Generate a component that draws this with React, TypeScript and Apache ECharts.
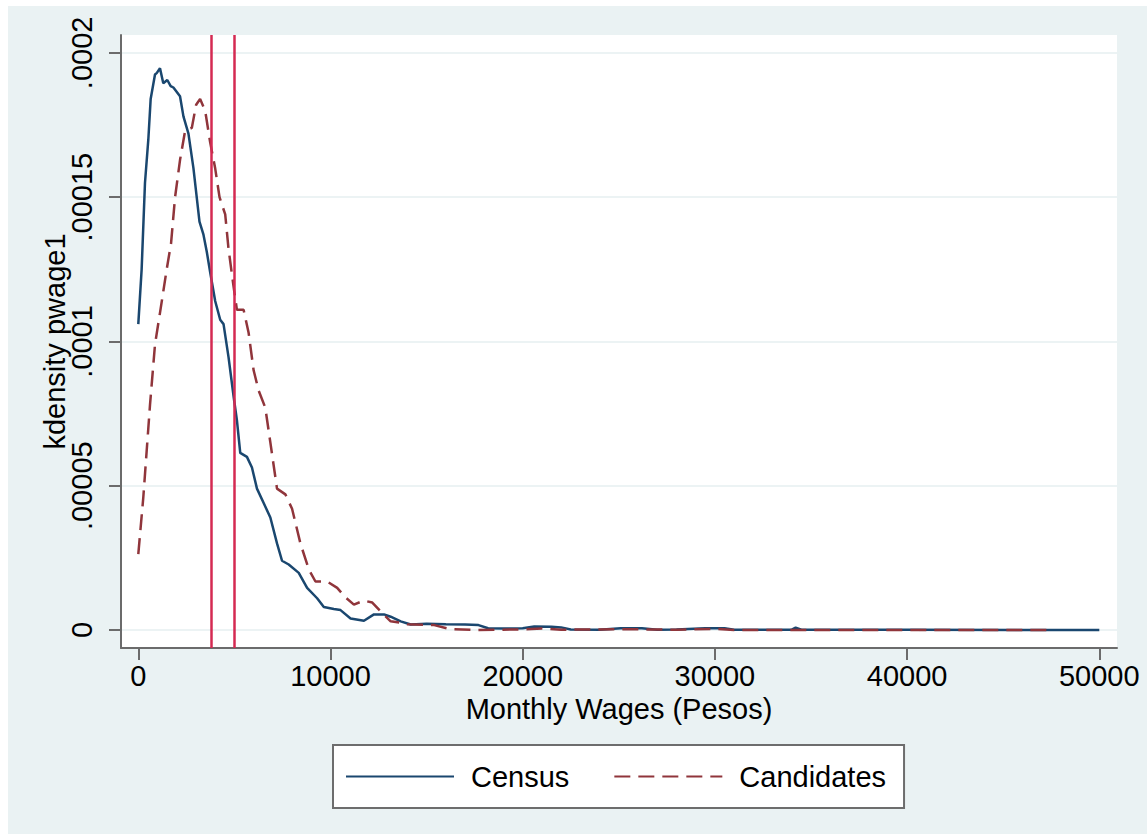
import React, { useEffect, useRef } from "react";
import * as echarts from "echarts";

// Kernel density of monthly wages (pesos)
const censusWage = [
  0, 174, 348, 522, 643, 869, 957, 1129, 1300, 1509, 1685, 1826, 2170, 2348, 2609, 2870, 3183, 3391, 3565,
  3739, 4000, 4261, 4435, 4696, 4957, 5130, 5304, 5652, 5913, 6174, 6522, 6870, 7217, 7478, 7826, 8348,
  8783, 9304, 9652, 10174, 10522, 11043, 11739, 12261, 12783, 13130, 13652, 14174, 15000, 16000, 17000,
  17700, 18200, 19000, 20000, 20600, 21500, 22000, 22500, 24000, 25100, 26200, 27000, 28000, 29500, 30500,
  31000, 34000, 34200, 34500, 40000, 50000,
];
const censusDensity = [
  0.000106, 0.000125, 0.000155, 0.00017, 0.000184, 0.0001925, 0.000193, 0.0001947, 0.0001895, 0.0001906,
  0.0001885, 0.000188, 0.000185, 0.000178, 0.000172, 0.00016, 0.0001415, 0.000137, 0.000131, 0.000124,
  0.000114, 0.0001075, 0.000106, 0.0000945, 0.000081, 0.0000727, 0.0000614, 0.00006, 0.0000563, 0.000049,
  0.000044, 0.000039, 0.00003, 0.000024, 0.0000227, 0.0000198, 0.0000146, 0.000011, 0.000008, 0.0000073,
  0.0000069, 0.000004, 0.0000032, 0.0000054, 0.0000054, 0.0000046, 0.000003, 0.0000019, 0.0000022,
  0.000002, 0.0000019, 0.0000017, 0.0000006, 0.0000005, 0.0000006, 0.0000012, 0.0000011, 0.0000009,
  0.0000002, 0.0000001, 0.0000006, 0.0000006, 0.0000001, 0.0000002, 0.0000006, 0.0000006, 0.0000001,
  0.0000001, 0.0000008, 0.0000001, 0.00000005, 0,
];

const candWage = [
  0, 261, 609, 870, 1130, 1270, 1478, 1704, 1913, 2174, 2435, 2783, 3009, 3217, 3478, 3739, 4000, 4226,
  4522, 4696, 4957, 5130, 5478, 5739, 6000, 6261, 6609, 6870, 7217, 7652, 8000, 8435, 8870, 9217, 9826,
  10348, 10783, 11217, 11739, 12174, 12696, 13130, 13652, 14000, 15400, 16200, 17500, 20000, 21000, 22000,
  25500, 26500, 28000, 30000, 31000, 47500,
];
const candDensity = [
  0.0000263, 0.000046, 0.000078, 0.000099, 0.00011, 0.000116, 0.000125, 0.000134, 0.00015, 0.000163,
  0.000173, 0.000174, 0.000182, 0.000184, 0.00018, 0.000169, 0.00016, 0.00015, 0.000144, 0.000132,
  0.000119, 0.000111, 0.000111, 0.000103, 0.00009, 0.000083, 0.000077, 0.000065, 0.000049, 0.000047,
  0.000042, 0.00003, 0.000021, 0.0000168, 0.0000168, 0.0000146, 0.0000113, 0.0000088, 0.0000102,
  0.0000095, 0.0000058, 0.000003, 0.0000025, 0.000002, 0.0000017, 0.0000003, 0, 0.0000002, 0.0000005,
  0.0000001, 0.0000003, 0.0000002, 0.0000001, 0.0000004, 0, 0,
];

const referenceWages = [3770, 5000];

const xTicks = [0, 10000, 20000, 30000, 40000, 50000];
const yTicks = [0, 0.00005, 0.0001, 0.00015, 0.0002];
const yTickLabels = ["0", ".00005", ".0001", ".00015", ".0002"];

const seriesNames = ["Census", "Candidates"];

const FONT = "'Liberation Sans', Arial, Helvetica, sans-serif";

export default function App() {
  const ref = useRef<HTMLDivElement>(null);

  useEffect(() => {
    if (!ref.current) return;
    const chart = echarts.init(ref.current, null, { renderer: "svg" });
    const census = censusWage.map((w, i) => [w, censusDensity[i]]);
    const cand = candWage.map((w, i) => [w, candDensity[i]]);
    chart.setOption({
      animation: false,
      backgroundColor: "#eaf2f3",
      textStyle: { fontFamily: FONT },
      grid: {
        left: 113,
        top: 29,
        width: 996,
        height: 613,
        show: true,
        backgroundColor: "#ffffff",
        borderWidth: 0,
        containLabel: false,
      },
      legend: {
        left: 325,
        top: 739,
        padding: [17, 18, 17, 12],
        backgroundColor: "#ffffff",
        borderColor: "#6d6d6d",
        borderWidth: 2,
        borderRadius: 0,
        itemWidth: 108,
        itemHeight: 30,
        itemGap: 44,
        data: seriesNames,
        itemStyle: { opacity: 0 },
        textStyle: {
          fontFamily: FONT,
          fontSize: 29,
          color: "#000",
          padding: [0, 0, 0, 12],
        },
      },
      xAxis: {
        type: "value",
        min: -900,
        max: 50920,
        name: "Monthly Wages (Pesos)",
        nameLocation: "middle",
        nameGap: 46,
        nameMoveOverlap: false,
        nameTextStyle: { fontFamily: FONT, fontSize: 29, color: "#000" },
        axisLine: { show: true, onZero: false, lineStyle: { color: "#6b6b6b", width: 2 } },
        axisTick: {
          show: true,
          length: 12,
          lineStyle: { color: "#6b6b6b", width: 2 },
          customValues: xTicks,
        },
        axisLabel: {
          show: true,
          margin: 13,
          fontFamily: FONT,
          fontSize: 29,
          color: "#000",
          customValues: xTicks,
          formatter: (v: number) => String(v),
        },
        splitLine: { show: false },
      },
      yAxis: {
        type: "value",
        min: -0.00000624,
        max: 0.0002062,
        name: "kdensity pwage1",
        nameLocation: "middle",
        nameGap: 52,
        nameMoveOverlap: false,
        nameTextStyle: { fontFamily: FONT, fontSize: 29, color: "#000" },
        axisLine: { show: true, onZero: false, lineStyle: { color: "#6b6b6b", width: 2 } },
        axisTick: {
          show: true,
          length: 12,
          lineStyle: { color: "#6b6b6b", width: 2 },
          customValues: yTicks,
        },
        axisLabel: {
          show: true,
          rotate: 90,
          margin: 25,
          fontFamily: FONT,
          fontSize: 29,
          color: "#000",
          customValues: yTicks,
          formatter: (v: number) => {
            const idx = yTicks.findIndex((t) => Math.abs(t - v) < 1e-9);
            return idx >= 0 ? yTickLabels[idx] : "";
          },
        },
        splitLine: { show: true, lineStyle: { color: "#e6eff0", width: 1.5 } },
      },
      series: [
        {
          name: seriesNames[0],
          type: "line",
          data: census,
          symbol: "none",
          smooth: false,
          color: "#1a476f",
          lineStyle: { color: "#1a476f", width: 2.5 },
          z: 3,
          markLine: {
            silent: true,
            symbol: "none",
            label: { show: false },
            lineStyle: { color: "#d42a52", width: 2.5, type: "solid" },
            data: referenceWages.map((w) => ({ xAxis: w })),
          },
        },
        {
          name: seriesNames[1],
          type: "line",
          data: cand,
          symbol: "none",
          smooth: false,
          color: "#90353b",
          lineStyle: { color: "#90353b", width: 2.5, type: [16, 8] },
          z: 4,
        },
      ],
    });
    return () => chart.dispose();
  }, []);

  return (
    <div
      style={{
        position: "absolute",
        left: 0,
        top: 0,
        width: 1147,
        height: 835,
        background: "#ffffff",
      }}
    >
      <div
        ref={ref}
        style={{ position: "absolute", left: 8, top: 6, width: 1139, height: 828 }}
      />
    </div>
  );
}
